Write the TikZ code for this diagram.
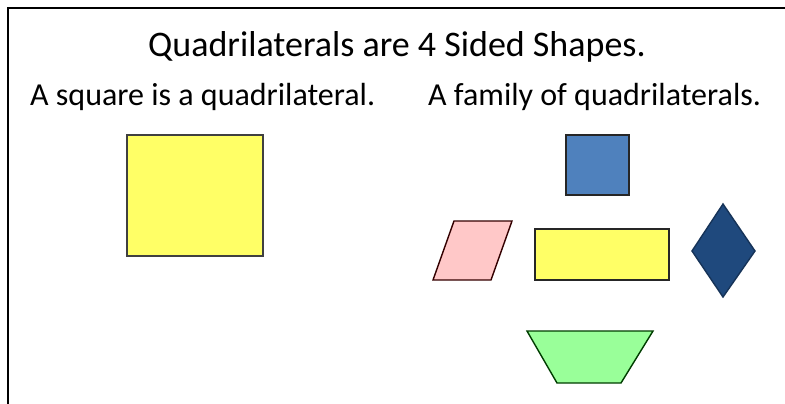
\documentclass[tikz,border=0pt]{standalone}
\usepackage{fontspec}
\setmainfont{Carlito}
\begin{document}
\begin{tikzpicture}[x=1pt,y=-1pt,
  shp/.style={line width=1.4pt, line join=miter},
  txt/.style={inner sep=0pt, anchor=base west, text=black}]
\useasboundingbox (0,0) rectangle (785,404);
\fill[white] (0,0) rectangle (785,404);
% frame
\draw[line width=1.5pt, black] (8,404) -- (8,8) -- (785,8);
% texts
\node[txt, font=\fontsize{36}{40}\selectfont] (title) at (148,57) {Quadrilaterals are 4 Sided Shapes.};
\node[txt, font=\fontsize{32}{36}\selectfont] (sub1) at (30,106) {A square is a quadrilateral.};
\node[txt, font=\fontsize{32}{36}\selectfont] (sub2) at (428,106) {A family of quadrilaterals.};
% shapes
\definecolor{yel}{HTML}{FFFF66}
\definecolor{blu}{HTML}{4F81BD}
\definecolor{pnk}{HTML}{FFC8C8}
\definecolor{navy}{HTML}{1F497D}
\definecolor{grn}{HTML}{99FF99}
\draw[shp, fill=yel, draw=black!75] (127,135) rectangle (263,256);
\draw[shp, fill=blu, draw=black!85] (566,135) rectangle (629,195);
\draw[shp, fill=pnk, draw=black!80!red] (454,221) -- (512,221) -- (491,280) -- (433,280) -- cycle;
\draw[shp, fill=yel, draw=black!85] (535,229) rectangle (669,280);
\draw[shp, fill=navy, draw=navy!70!black] (723,204) -- (755,251) -- (723,297) -- (692,251) -- cycle;
\draw[shp, fill=grn, draw=black!60!green!60!black] (527,331) -- (653,331) -- (621,383) -- (557,383) -- cycle;
\end{tikzpicture}
\end{document}
